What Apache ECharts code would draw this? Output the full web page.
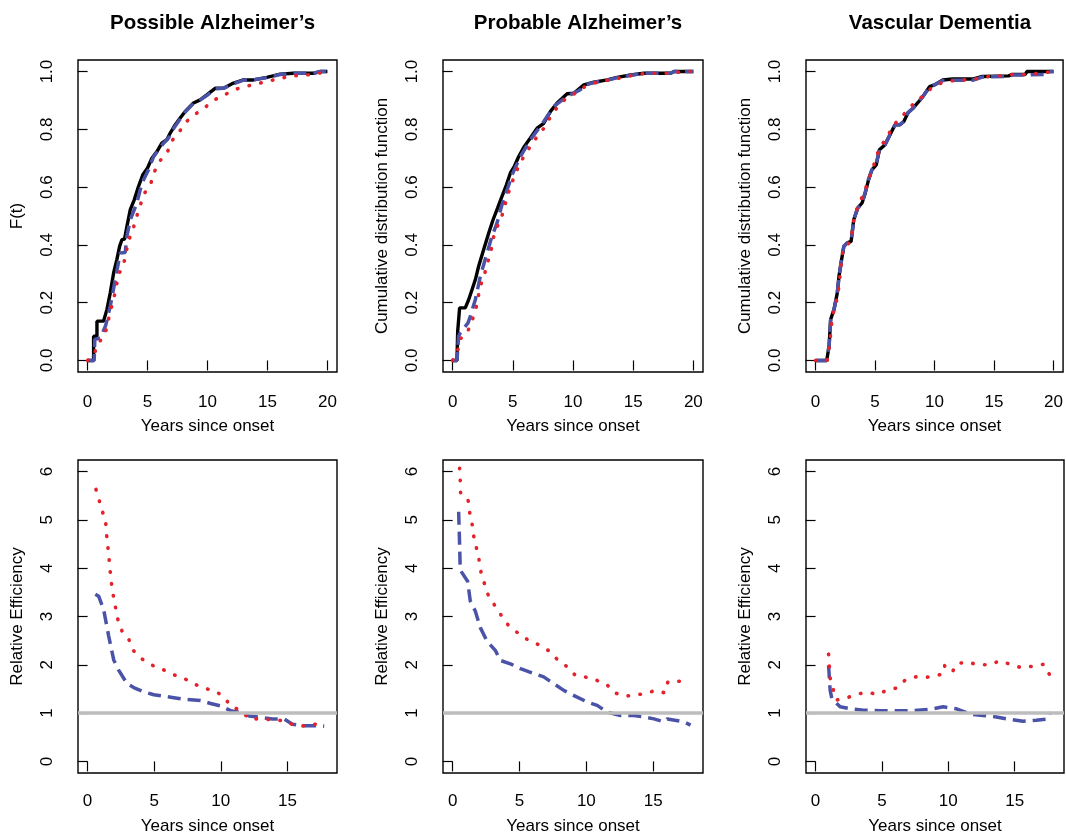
<!DOCTYPE html>
<html>
<head>
<meta charset="utf-8">
<script src="https://cdn.jsdelivr.net/npm/echarts@6/dist/echarts.min.js"></script>
<style>
  html, body { margin: 0; padding: 0; background: #fff; }
  #chart { width: 1066px; height: 836px; }
</style>
</head>
<body>
<div id="chart"></div>
<script>
// ---- data ----
const panelTitles = ['Possible Alzheimer\u2019s', 'Probable Alzheimer\u2019s', 'Vascular Dementia'];
const topYNames = ['F(t)', 'Cumulative distribution function', 'Cumulative distribution function'];
const xTicksTop = [0, 5, 10, 15, 20];
const yTicksTop = [0, 0.2, 0.4, 0.6, 0.8, 1.0];
const xTicksBottom = [0, 5, 10, 15];
const yTicksBottom = [0, 1, 2, 3, 4, 5, 6];
const refLine = 1;

// Possible Alzheimer's - CDF
const possBlack = [[0,0],[0.5,0],[0.5,0.084],[0.78,0.084],[0.78,0.136],[1.33,0.136],[1.61,0.176],[1.89,0.234],[2.17,0.303],[2.44,0.349],[2.67,0.395],[2.86,0.418],[3.08,0.42],[3.28,0.464],[3.56,0.522],[3.89,0.556],[4.25,0.603],[4.61,0.643],[5.0,0.666],[5.36,0.70],[5.78,0.723],[6.19,0.752],[6.61,0.764],[6.89,0.787],[7.31,0.816],[7.72,0.839],[8.14,0.862],[8.83,0.891],[9.39,0.902],[9.94,0.919],[10.64,0.942],[11.33,0.942],[12.17,0.96],[13.0,0.971],[13.83,0.971],[14.94,0.98],[16.06,0.991],[17.17,0.994],[18.83,0.994],[19.39,1.0],[20,1.0]];
const possBlue = [[0,0],[0.55,0],[0.6,0.073],[1.06,0.078],[1.5,0.12],[1.61,0.124],[1.89,0.188],[2.31,0.28],[2.72,0.372],[3.14,0.374],[3.28,0.43],[3.56,0.487],[4.11,0.545],[4.53,0.614],[5.08,0.66],[5.5,0.705],[5.9,0.728],[6.3,0.75],[6.75,0.77],[7.2,0.805],[7.72,0.836],[8.14,0.86],[8.83,0.89],[9.39,0.902],[9.94,0.917],[10.64,0.94],[11.33,0.942],[12.17,0.958],[13.0,0.97],[13.83,0.971],[14.94,0.979],[16.06,0.99],[17.17,0.994],[18.83,0.994],[19.39,1.0],[20,1.0]];
const possRed = [[0,0],[0.56,0.023],[0.86,0.059],[1.42,0.086],[1.67,0.127],[1.89,0.17],[2.17,0.211],[2.39,0.255],[2.58,0.297],[3.0,0.332],[3.42,0.415],[3.78,0.453],[4.06,0.493],[4.39,0.537],[4.72,0.577],[5.28,0.614],[5.58,0.654],[6.06,0.692],[6.67,0.723],[7.06,0.762],[7.67,0.793],[8.22,0.826],[8.92,0.851],[9.67,0.871],[10.44,0.899],[11.28,0.916],[12.11,0.935],[13.06,0.948],[14.06,0.956],[15.0,0.967],[16.0,0.975],[16.94,0.985],[18.0,0.987],[19.0,0.992],[20,1.0]];

// Probable Alzheimer's - CDF
const probBlack = [[0,0],[0.36,0],[0.42,0.101],[0.58,0.182],[1.05,0.182],[1.33,0.21],[1.61,0.245],[1.89,0.28],[2.16,0.326],[2.58,0.384],[3.0,0.441],[3.36,0.487],[3.74,0.528],[4.1,0.568],[4.47,0.608],[4.8,0.649],[5.13,0.672],[5.49,0.706],[5.96,0.741],[6.46,0.77],[7.02,0.804],[7.57,0.821],[8.13,0.862],[8.68,0.891],[9.51,0.923],[10.07,0.925],[10.9,0.954],[11.73,0.963],[12.84,0.971],[13.68,0.98],[14.79,0.988],[15.89,0.994],[18.11,0.994],[18.39,1.0],[20,1.0]];
const probBlue = [[0,0],[0.36,0],[0.5,0.084],[0.64,0.096],[1.28,0.13],[1.47,0.153],[1.89,0.211],[2.3,0.291],[2.86,0.372],[3.27,0.43],[3.69,0.476],[4.1,0.539],[4.58,0.597],[4.94,0.643],[5.63,0.706],[6.46,0.764],[7.57,0.827],[8.4,0.879],[9.51,0.914],[10.62,0.937],[10.9,0.952],[11.73,0.962],[12.84,0.97],[13.68,0.979],[14.79,0.987],[15.89,0.994],[18.11,0.994],[18.39,1.0],[20,1.0]];
const probRed = [[0,0],[0.42,0.032],[0.58,0.073],[1.19,0.093],[1.53,0.13],[1.89,0.168],[2.08,0.211],[2.3,0.257],[2.64,0.297],[2.91,0.338],[3.19,0.38],[3.36,0.422],[3.69,0.461],[4.1,0.501],[4.38,0.543],[4.66,0.583],[5.02,0.626],[5.41,0.666],[5.91,0.706],[6.46,0.741],[7.02,0.775],[7.66,0.808],[8.18,0.847],[8.74,0.879],[9.51,0.911],[10.29,0.927],[11.12,0.952],[12.0,0.963],[12.98,0.971],[14.06,0.979],[14.98,0.987],[16.03,0.994],[17.06,0.994],[18.06,0.994],[19.17,1.0],[20,1.0]];

// Vascular Dementia - CDF
const vascBlack = [[0,0],[0.94,0],[1.14,0.05],[1.27,0.142],[1.55,0.176],[1.83,0.234],[1.97,0.291],[2.19,0.349],[2.38,0.395],[2.66,0.407],[2.99,0.412],[3.21,0.487],[3.55,0.528],[3.91,0.545],[4.18,0.58],[4.46,0.626],[4.74,0.66],[5.1,0.677],[5.37,0.729],[5.84,0.747],[6.26,0.781],[6.68,0.816],[7.09,0.816],[7.42,0.827],[7.78,0.858],[8.2,0.873],[8.61,0.893],[9.03,0.914],[9.58,0.948],[10.0,0.954],[10.69,0.971],[11.52,0.974],[13.19,0.974],[14.02,0.983],[16.23,0.985],[16.51,0.99],[17.62,0.99],[17.76,1.0],[20,1.0]];
const vascBlue = [[0,0],[0.94,0],[1.14,0.05],[1.27,0.14],[1.55,0.176],[1.83,0.232],[1.97,0.29],[2.19,0.349],[2.38,0.395],[2.66,0.407],[2.99,0.412],[3.21,0.487],[3.55,0.528],[3.91,0.545],[4.18,0.582],[4.46,0.628],[4.74,0.66],[5.1,0.68],[5.37,0.731],[5.84,0.747],[6.26,0.781],[6.68,0.816],[7.09,0.816],[7.42,0.827],[7.78,0.858],[8.2,0.873],[8.61,0.893],[9.03,0.914],[9.58,0.946],[10.0,0.954],[10.69,0.969],[11.52,0.97],[13.19,0.97],[14.02,0.981],[16.23,0.983],[16.51,0.988],[17.62,0.988],[19.4,0.99],[19.6,1.0],[20,1.0]];
const vascRed = [[0,0],[0.98,0],[1.14,0.044],[1.27,0.09],[1.36,0.13],[1.55,0.176],[1.83,0.217],[1.97,0.259],[2.19,0.347],[2.33,0.389],[2.94,0.411],[3.13,0.459],[3.27,0.501],[3.63,0.541],[4.04,0.576],[4.38,0.616],[4.74,0.658],[5.1,0.7],[5.37,0.738],[5.98,0.767],[6.48,0.812],[7.04,0.835],[7.65,0.862],[8.28,0.891],[8.97,0.914],[9.72,0.942],[10.55,0.96],[11.47,0.968],[12.49,0.971],[13.52,0.975],[14.57,0.983],[15.54,0.985],[16.59,0.99],[17.56,0.99],[18.59,0.993],[19.61,0.998],[20,1.0]];

// Relative efficiency
const possEffBlue = [[0.58,3.46],[0.83,3.42],[1.2,3.15],[1.58,2.6],[1.96,2.1],[2.33,1.89],[2.96,1.61],[3.59,1.51],[4.21,1.44],[4.97,1.38],[6.47,1.32],[7.47,1.28],[8.48,1.26],[9.23,1.2],[9.98,1.15],[10.74,1.05],[11.49,1.01],[12.11,0.94],[12.99,0.91],[13.87,0.88],[14.75,0.88],[15.37,0.77],[16.25,0.74],[17.26,0.74],[17.76,0.73]];
const possEffRed = [[0.63,5.63],[0.85,5.43],[1.05,5.21],[1.35,5.01],[1.4,4.76],[1.5,4.5],[1.6,4.24],[1.68,3.98],[1.78,3.71],[1.91,3.46],[2.08,3.21],[2.26,2.95],[2.58,2.7],[3.09,2.53],[3.46,2.29],[4.09,2.12],[4.77,2.0],[5.59,1.91],[6.4,1.8],[7.17,1.73],[7.9,1.62],[8.68,1.52],[9.56,1.46],[10.26,1.33],[10.78,1.13],[11.53,1.06],[12.11,0.88],[13.04,0.88],[13.99,0.86],[14.82,0.84],[15.5,0.75],[16.38,0.73],[17.26,0.78]];
const probEffBlue = [[0.45,5.17],[0.52,4.51],[0.57,3.96],[1.12,3.73],[1.32,3.32],[1.7,3.11],[2.07,2.77],[2.57,2.49],[3.19,2.3],[3.57,2.09],[4.32,2.02],[5.07,1.92],[6.06,1.82],[6.81,1.75],[7.56,1.61],[8.31,1.47],[9.31,1.33],[10.06,1.23],[10.81,1.16],[11.55,1.02],[12.55,0.95],[13.55,0.95],[14.3,0.92],[15.05,0.88],[15.8,0.82],[16.05,0.88],[17.29,0.82],[17.79,0.75]];
const probEffRed = [[0.52,6.07],[0.57,5.81],[0.6,5.54],[1.15,5.42],[1.27,5.16],[1.45,4.93],[1.57,4.67],[1.77,4.43],[1.97,4.18],[2.12,3.92],[2.4,3.66],[2.7,3.41],[3.2,3.21],[3.69,3.0],[4.19,2.81],[4.92,2.65],[5.67,2.51],[6.49,2.41],[7.26,2.28],[7.89,2.09],[8.61,1.95],[9.18,1.78],[10.06,1.74],[10.76,1.68],[11.5,1.6],[12.1,1.42],[12.93,1.35],[13.63,1.38],[14.35,1.4],[15.17,1.47],[15.85,1.42],[16.1,1.65],[17.1,1.66],[17.62,1.53]];
const vascEffBlue = [[0.98,1.99],[1.1,1.47],[1.23,1.3],[1.85,1.13],[2.6,1.09],[3.61,1.06],[4.86,1.05],[6.11,1.05],[7.36,1.05],[8.62,1.08],[9.62,1.13],[10.62,1.09],[11.62,0.98],[12.62,0.95],[13.62,0.92],[14.63,0.87],[15.63,0.83],[16.63,0.85],[17.51,0.88],[17.68,1.02]];
const vascEffRed = [[0.98,2.22],[1.1,1.72],[1.55,1.27],[2.3,1.31],[3.06,1.39],[3.86,1.43],[4.68,1.39],[5.36,1.47],[6.11,1.52],[6.74,1.68],[7.54,1.75],[8.31,1.74],[9.12,1.78],[9.62,1.81],[9.74,1.99],[10.32,1.86],[10.64,2.02],[11.42,2.06],[12.22,2.0],[13.17,2.0],[13.82,2.08],[14.7,2.01],[15.5,1.94],[16.38,1.97],[17.18,2.01],[17.58,1.82],[17.96,1.65]];

const cdfSets = [[possBlack, possBlue, possRed], [probBlack, probBlue, probRed], [vascBlack, vascBlue, vascRed]];
const effSets = [[possEffBlue, possEffRed], [probEffBlue, probEffRed], [vascEffBlue, vascEffRed]];

// ---- layout / style ----
const FONT = 'Liberation Sans, Arial, Helvetica, sans-serif';
const colLeft = [78, 443, 806];
const colWidth = [259, 260, 258];
const rowTop = [60, 460];
const rowHeight = [312, 313];
const BLACK = '#000000', BLUE = '#4b53a9', RED = '#e3222b', GREY = '#bdbdbd';

const grids = [], xAxes = [], yAxes = [], series = [], titles = [];

function lineSeries(idx, data, color, kind) {
  const ls = { color: color, width: 3.5 };
  if (kind === 'dash') { ls.type = [13, 7]; ls.width = 3.5; }
  if (kind === 'dot') { ls.type = [0.5, 11.5]; ls.cap = 'round'; ls.width = 3.6; }
  if (kind === 'solid') { ls.width = 3.4; }
  return {
    type: 'line', xAxisIndex: idx, yAxisIndex: idx, data: data,
    symbol: 'none', lineStyle: ls, animation: false, silent: true
  };
}

function axisX(idx, min, max, ticks, margin, gap) {
  return {
    gridIndex: idx, type: 'value', min: min, max: max,
    axisLine: { show: false }, splitLine: { show: false },
    axisTick: { show: true, length: 10, customValues: ticks, lineStyle: { color: BLACK, width: 1.2 } },
    axisLabel: { customValues: ticks, margin: margin, fontSize: 17, color: BLACK, fontFamily: FONT },
    name: 'Years since onset', nameLocation: 'middle', nameGap: gap,
    nameTextStyle: { fontSize: 17, color: BLACK, fontFamily: FONT }
  };
}

function axisY(idx, min, max, ticks, name, fmt) {
  return {
    gridIndex: idx, type: 'value', min: min, max: max,
    axisLine: { show: false }, splitLine: { show: false },
    axisTick: { show: true, length: 10, customValues: ticks, lineStyle: { color: BLACK, width: 1.2 } },
    axisLabel: { customValues: ticks, margin: 22, rotate: 90, fontSize: 17, color: BLACK, fontFamily: FONT, formatter: fmt },
    name: name, nameLocation: 'middle', nameGap: 52, nameRotate: 90,
    nameTextStyle: { fontSize: 17, color: BLACK, fontFamily: FONT }
  };
}

for (let c = 0; c < 3; c++) {
  // top row: CDFs
  let idx = grids.length;
  grids.push({ left: colLeft[c], top: rowTop[0], width: colWidth[c], height: rowHeight[0],
    show: true, borderColor: BLACK, borderWidth: 1.4, backgroundColor: 'transparent' });
  xAxes.push(axisX(idx, -0.8, 20.8, xTicksTop, 22, 46));
  yAxes.push(axisY(idx, -0.04, 1.04, yTicksTop, topYNames[c], v => v.toFixed(1)));
  const cs = cdfSets[c];
  series.push(lineSeries(idx, cs[0], BLACK, 'solid'));
  series.push(lineSeries(idx, cs[1], BLUE, 'dash'));
  series.push(lineSeries(idx, cs[2], RED, 'dot'));
  titles.push({ text: panelTitles[c], left: colLeft[c] + colWidth[c] / 2, top: 8, textAlign: 'center',
    textStyle: { fontSize: 20.5, fontWeight: 'bold', color: BLACK, fontFamily: FONT } });

  // bottom row: relative efficiency
  idx = grids.length;
  grids.push({ left: colLeft[c], top: rowTop[1], width: colWidth[c], height: rowHeight[1],
    show: true, borderColor: BLACK, borderWidth: 1.4, backgroundColor: 'transparent' });
  xAxes.push(axisX(idx, -0.72, 18.72, xTicksBottom, 20, 45));
  yAxes.push(axisY(idx, -0.24, 6.24, yTicksBottom, 'Relative Efficiency', v => String(v)));
  const es = effSets[c];
  series.push(lineSeries(idx, es[0], BLUE, 'dash'));
  series.push(lineSeries(idx, es[1], RED, 'dot'));
  // horizontal reference at 1
  series.push({
    type: 'line', xAxisIndex: idx, yAxisIndex: idx, data: [], z: 5, animation: false, silent: true,
    markLine: { silent: true, symbol: 'none', label: { show: false }, animation: false,
      lineStyle: { color: GREY, width: 3.5, type: 'solid' }, data: [{ yAxis: refLine }] }
  });
}

const chart = echarts.init(document.getElementById('chart'), null, { renderer: 'canvas' });
chart.setOption({
  backgroundColor: '#ffffff',
  animation: false,
  title: titles,
  grid: grids,
  xAxis: xAxes,
  yAxis: yAxes,
  series: series
});
</script>
</body>
</html>
